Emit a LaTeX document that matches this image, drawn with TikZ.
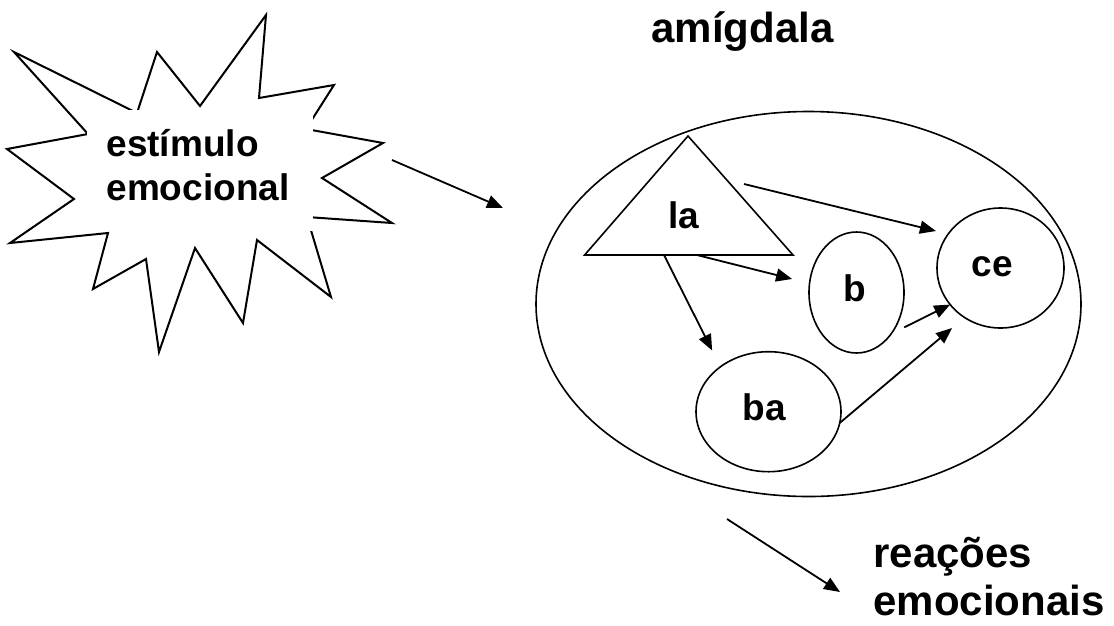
\documentclass[tikz,border=0pt]{standalone}
\usepackage{fontspec}
\setmainfont{Liberation Sans}
\usetikzlibrary{arrows.meta,shapes.geometric,calc}
\begin{document}
\begin{tikzpicture}[x=1pt,y=-1pt,
  shapeline/.style={draw=black, line width=1.6pt},
  region/.style={ellipse, shapeline, inner sep=0pt, outer sep=0pt},
  arr/.style={line width=1.8pt, -{Triangle[length=16pt,width=13pt]}},
  lbl/.style={font=\fontsize{37}{43}\selectfont\bfseries, inner sep=0pt, outer sep=0pt},
  big/.style={font=\fontsize{42}{48}\selectfont\bfseries, inner sep=0pt, outer sep=0pt},
  burst/.style={draw=black, line width=2pt},
]
\useasboundingbox (0,0) rectangle (1114,625);

% starburst (stimulus)
\draw[burst] (14,52) -- (137,113) -- (157,52) -- (200,106) -- (266,15) -- (259,98)
  -- (334,85) -- (306,129) -- (383,143) -- (322,178) -- (392,223) -- (307,217)
  -- (331,297) -- (257,240) -- (243,323) -- (195,248) -- (159,352) -- (146,259)
  -- (93,289) -- (108,233) -- (10,243) -- (74,199) -- (7,149) -- (88,134) -- cycle;
\node[fill=white, inner sep=0pt, minimum width=226pt, minimum height=121pt, anchor=north west] (stimbox) at (87,110) {};
\node[lbl, anchor=base west] (stim1) at (106.5,156.7) {estímulo};
\node[lbl, anchor=base west] (stim2) at (106.5,200) {emocional};

% title
\node[big, anchor=base west] (title) at (651.5,42) {amígdala};

% amygdala
\node[region, minimum width=545pt, minimum height=385pt] (amy) at (808.5,304) {};

% nuclei
\coordinate (la-apex) at (688,136);
\coordinate (la-bl) at (584.6,255);
\coordinate (la-br) at (793,255);
\draw[shapeline] (la-apex) -- (la-br) -- (la-bl) -- cycle;
\node[lbl] (la) at (683.5,215.5) {la};

\node[region, minimum width=95pt, minimum height=121pt,
  label={[lbl, xshift=-1.5pt, yshift=4pt]center:b}] (b) at (856.5,292.5) {};
\node[region, minimum width=127pt, minimum height=120pt,
  label={[lbl, xshift=-8.5pt, yshift=1pt]center:ce}] (ce) at (1000.5,268) {};
\node[region, minimum width=145pt, minimum height=120pt,
  label={[lbl, xshift=-4.5pt, yshift=4pt]center:ba}] (ba) at (768.5,411.7) {};

% connectors
\coordinate (la-out) at (744,184);
\draw[arr, shorten >=12.6pt] (la-out) -- (ce.147);
\draw[arr, shorten >=18pt] ($(la-bl)!0.539!(la-br)$) -- (b.169);
\draw[arr, shorten >=18.3pt] ($(la-bl)!0.381!(la-br)$) -- (ba.137);
\draw[arr, shorten <=14.6pt] (b.310) -- (ce.216);
\draw[arr, shorten >=16.4pt] (ba.351) -- (ce.234);

\coordinate (stim-out) at (392,160);
\coordinate (stim-in) at (503,208);
\draw[arr] (stim-out) -- (stim-in);

\coordinate (amy-out) at (727,519);
\coordinate (react-in) at (840,592);
\draw[arr] (amy-out) -- (react-in);

% reactions
\node[big, anchor=base west] (react1) at (873.5,567) {reações};
\node[big, anchor=base west] (react2) at (873.5,615) {emocionais};
\end{tikzpicture}
\end{document}
